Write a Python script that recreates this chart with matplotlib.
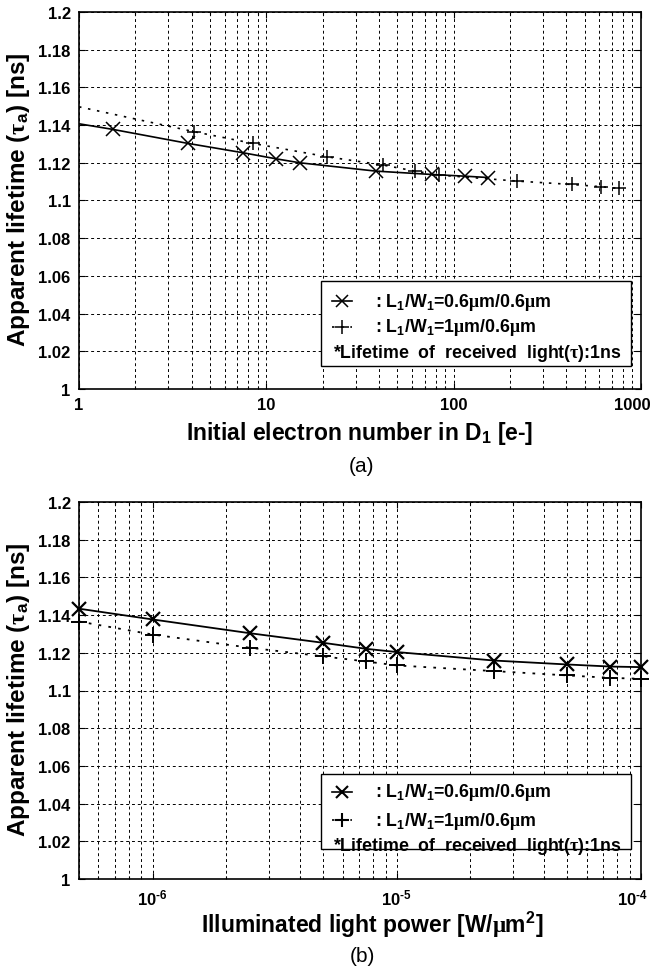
import matplotlib
matplotlib.use("Agg")
import matplotlib.pyplot as plt
from matplotlib.patches import Rectangle
from matplotlib.lines import Line2D
from matplotlib.transforms import ScaledTranslation
from matplotlib.ticker import FixedLocator, LogLocator, NullFormatter, FuncFormatter

plt.rcParams['font.family'] = ['Liberation Sans', 'DejaVu Sans']
plt.rcParams['font.weight'] = 'bold'
plt.rcParams['mathtext.fontset'] = 'custom'
plt.rcParams['mathtext.rm'] = 'Liberation Serif'
plt.rcParams['mathtext.bf'] = 'Liberation Sans:bold'
plt.rcParams['mathtext.it'] = 'Liberation Sans:italic'
plt.rcParams['mathtext.sf'] = 'Liberation Sans'

# ---- panel (a): apparent lifetime vs initial electron number ----
n_a1 = [1.0, 1.52, 3.81, 7.54, 11.3, 15.1, 38.3, 76.7, 115, 152]
tau_a1 = [1.1407, 1.1377, 1.1303, 1.1253, 1.1221, 1.1200, 1.1156, 1.1138, 1.1129, 1.1122]
n_a2 = [1.0, 4.12, 8.46, 21.1, 42.0, 62.3, 83.4, 218, 428, 614, 764]
tau_a2 = [1.1497, 1.1365, 1.1303, 1.1232, 1.1188, 1.1156, 1.1135, 1.1103, 1.1085, 1.1073, 1.1064]

# ---- panel (b): apparent lifetime vs illuminated light power ----
p_b = [5e-7, 1e-6, 2.5e-6, 5e-6, 7.5e-6, 1e-5, 2.5e-5, 5e-5, 7.5e-5, 1e-4]
tau_b1 = [1.1434, 1.1377, 1.1304, 1.1253, 1.1221, 1.1204, 1.1159, 1.1138, 1.1127, 1.1124]
tau_b2 = [1.1366, 1.1297, 1.1227, 1.1181, 1.1154, 1.1133, 1.1103, 1.1080, 1.1067, 1.1062]

yticks = [1.0, 1.02, 1.04, 1.06, 1.08, 1.10, 1.12, 1.14, 1.16, 1.18, 1.20]
xticks_a = [1, 10, 100, 1000]
xticklabels_a = ['1', '10', '100', '1000']
xticks_b = [1e-6, 1e-5, 1e-4]
xticklabels_b = ['10$^{\\mathbf{\u20106}}$', '10$^{\\mathbf{\u20105}}$', '10$^{\\mathbf{\u20104}}$']

label1 = ': L$_\\mathbf{1}$/W$_\\mathbf{1}$=0.6$\\mathrm{\\mu}$m/0.6$\\mathrm{\\mu}$m'
label2 = ': L$_\\mathbf{1}$/W$_\\mathbf{1}$=1$\\mathrm{\\mu}$m/0.6$\\mathrm{\\mu}$m'
label3 = '*Lifetime  of  received  light($\\mathrm{\\tau}$):1ns'

W, H = 652, 978
fig = plt.figure(figsize=(W / 100, H / 100), dpi=100)

def axrect(l, t, r, b):
    return [l / W, 1 - b / H, (r - l) / W, (b - t) / H]

axA = fig.add_axes(axrect(79, 13, 641, 390))
axB = fig.add_axes(axrect(79, 503, 641, 880))

dotted = (0, (1.5, 4.0))

def style(ax, xlim, xt, xtl):
    ax.set_xscale('log')
    ax.set_xlim(*xlim)
    ax.set_ylim(1.0, 1.2)
    ax.set_yticks(yticks)
    ax.yaxis.set_major_formatter(FuncFormatter(lambda v, p: '%g' % round(v, 2)))
    ax.xaxis.set_major_locator(FixedLocator(xt))
    ax.set_xticklabels(xtl)
    ax.xaxis.set_minor_locator(LogLocator(base=10, subs=range(2, 10), numticks=20))
    ax.xaxis.set_minor_formatter(NullFormatter())
    ax.grid(True, which='both', axis='x', color='black', lw=0.7, ls=(0, (3, 3)))
    ax.grid(True, which='major', axis='y', color='black', lw=0.7, ls=(0, (3, 3)))
    ax.tick_params(which='both', direction='in', top=True, right=True, labelsize=12, pad=6,
                   width=0.8)
    ax.tick_params(which='major', length=4)
    ax.tick_params(which='minor', length=2.5)
    for s in ax.spines.values():
        s.set_linewidth(1.2)
    for t in ax.get_xticklabels() + ax.get_yticklabels():
        t.set_fontweight('bold')
    last = ax.get_xticklabels()[-1]
    last.set_transform(last.get_transform() + ScaledTranslation(-9 / 100, 0, fig.dpi_scale_trans))

style(axA, (1, 1000), xticks_a, xticklabels_a)
style(axB, (5e-7, 1e-4), xticks_b, xticklabels_b)

# panel (a) curves
axA.plot(n_a1, tau_a1, color='black', lw=1.2, marker='x', ms=9.5, mew=1.1,
         markevery=list(range(1, len(n_a1))), zorder=3)
axA.plot(n_a2, tau_a2, color='black', lw=1.2, ls=dotted, marker='+', ms=10, mew=1.1,
         markevery=list(range(1, len(n_a2))), zorder=3)

# panel (b) curves
axB.plot(p_b, tau_b1, color='black', lw=1.3, marker='x', ms=10, mew=1.6, clip_on=False, zorder=3)
axB.plot(p_b, tau_b2, color='black', lw=1.3, ls=dotted, marker='+', ms=11, mew=1.4, clip_on=False, zorder=3)

LFS = 12.8

def legend(ax, box, rows, mew):
    x0, y0, x1, y1 = box
    ax.add_patch(Rectangle((x0, y0), x1 - x0, y1 - y0, transform=ax.transAxes,
                           fc='white', ec='black', lw=1.0, zorder=6))
    hx = [0.451, 0.468, 0.485]
    ax.add_line(Line2D(hx, [rows[0]] * 3, transform=ax.transAxes, color='black', lw=1.2,
                       marker='x', ms=9, mew=mew, markevery=[1], zorder=7))
    ax.add_line(Line2D(hx, [rows[1]] * 3, transform=ax.transAxes, color='black', lw=1.2,
                       ls=dotted, marker='+', ms=10, mew=mew, markevery=[1], zorder=7))
    ax.text(0.527, rows[0], label1, transform=ax.transAxes, va='center', ha='left',
            fontsize=LFS, fontweight='bold', zorder=8)
    ax.text(0.527, rows[1], label2, transform=ax.transAxes, va='center', ha='left',
            fontsize=LFS, fontweight='bold', zorder=8)
    ax.text(0.452, rows[2], label3, transform=ax.transAxes, va='center', ha='left',
            fontsize=LFS, fontweight='bold', zorder=8)

legend(axA, (0.431, 0.061, 0.982, 0.286), (0.233, 0.165, 0.098), 1.1)
legend(axB, (0.431, 0.080, 0.982, 0.279), (0.231, 0.156, 0.088), 1.5)

ylab = 'Apparent lifetime ($\\mathrm{\\tau}_\\mathbf{a}$) [ns]'
fig.text(19 / W, 1 - 200 / H, ylab, rotation=90, ha='center', va='center',
         fontsize=17.5, fontweight='bold')
fig.text(19 / W, 1 - 690 / H, ylab, rotation=90, ha='center', va='center',
         fontsize=17.5, fontweight='bold')
fig.text(360 / W, 1 - 434 / H, 'Initial electron number in D$_\\mathbf{1}$ [e-]',
         ha='center', va='center', fontsize=16.5, fontweight='bold')
fig.text(372 / W, 1 - 925 / H, 'Illuminated light power [W/$\\mathrm{\\mu}$m$^\\mathbf{2}$]',
         ha='center', va='center', fontsize=16.5, fontweight='bold')
fig.text(362 / W, 1 - 466 / H, '(a)', ha='center', va='center', fontsize=15, fontweight='normal')
fig.text(362 / W, 1 - 957 / H, '(b)', ha='center', va='center', fontsize=15, fontweight='normal')

fig.savefig('out.png', dpi=100)
